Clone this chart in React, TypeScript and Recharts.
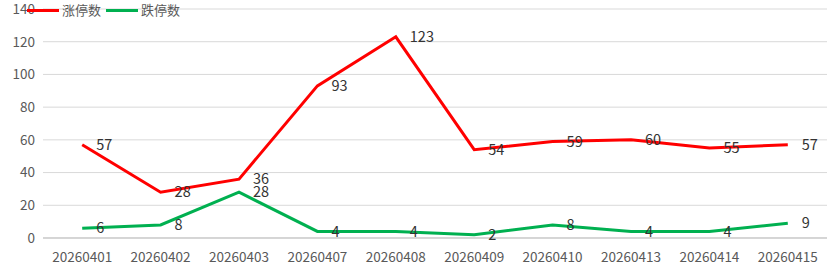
import React from 'react';
import { LineChart, Line, XAxis, YAxis, CartesianGrid } from 'recharts';

const dates = ['20260401', '20260402', '20260403', '20260407', '20260408', '20260409', '20260410', '20260413', '20260414', '20260415'];
const limitUp = [57, 28, 36, 93, 123, 54, 59, 60, 55, 57];
const limitDown = [6, 8, 28, 4, 4, 2, 8, 4, 4, 9];
const yTicks = [0, 20, 40, 60, 80, 100, 120, 140];

const seriesUp = '涨停数';
const seriesDown = '跌停数';

const data = dates.map((d, i) => ({ date: d, up: limitUp[i], down: limitDown[i] }));

const FONT = '"Microsoft YaHei", "Noto Sans CJK SC", "Noto Sans", sans-serif';

// value labels sit to the right of each point
const renderLabel = (props: any) => {
  const { x, y, value } = props;
  return (
    <text x={x + 14} y={y} dy="0.35em" fontSize={14.5} fill="#333" fontFamily={FONT} textAnchor="start">
      {value}
    </text>
  );
};

export default function App() {
  return (
    <div style={{ position: 'absolute', left: 0, top: 0, width: 831, height: 276, background: '#fff' }}>
      <LineChart width={831} height={276} data={data} margin={{ top: 9, right: 4, left: 0, bottom: 0 }}>
        <CartesianGrid stroke="#d9d9d9" vertical={false} />
        <XAxis
          dataKey="date"
          scale="band"
          height={38}
          tickLine={false}
          axisLine={{ stroke: '#bfbfbf' }}
          tickMargin={8}
          interval={0}
          tick={{ fontSize: 13.5, fill: '#595959', fontFamily: FONT }}
        />
        <YAxis
          width={43}
          domain={[0, 140]}
          ticks={yTicks}
          tickLine={false}
          axisLine={false}
          tick={{ fontSize: 13.5, fill: '#595959', fontFamily: FONT }}
        />
        <Line
          dataKey="up"
          name={seriesUp}
          stroke="#FF0000"
          strokeWidth={3}
          dot={false}
          activeDot={false}
          type="linear"
          isAnimationActive={false}
          label={renderLabel}
        />
        <Line
          dataKey="down"
          name={seriesDown}
          stroke="#00B050"
          strokeWidth={3}
          dot={false}
          activeDot={false}
          type="linear"
          isAnimationActive={false}
          label={renderLabel}
        />
      </LineChart>
      {/* legend overlays the top-left corner, over the 140 tick */}
      <div style={{ position: 'absolute', left: 27, top: 0, display: 'flex', alignItems: 'center', fontFamily: FONT, fontSize: 13, color: '#595959', lineHeight: '20px' }}>
        <span style={{ display: 'inline-block', width: 32, height: 3, background: '#FF0000', marginRight: 3 }} />
        <span style={{ marginRight: 5 }}>{seriesUp}</span>
        <span style={{ display: 'inline-block', width: 32, height: 3, background: '#00B050', marginRight: 3 }} />
        <span>{seriesDown}</span>
      </div>
    </div>
  );
}
